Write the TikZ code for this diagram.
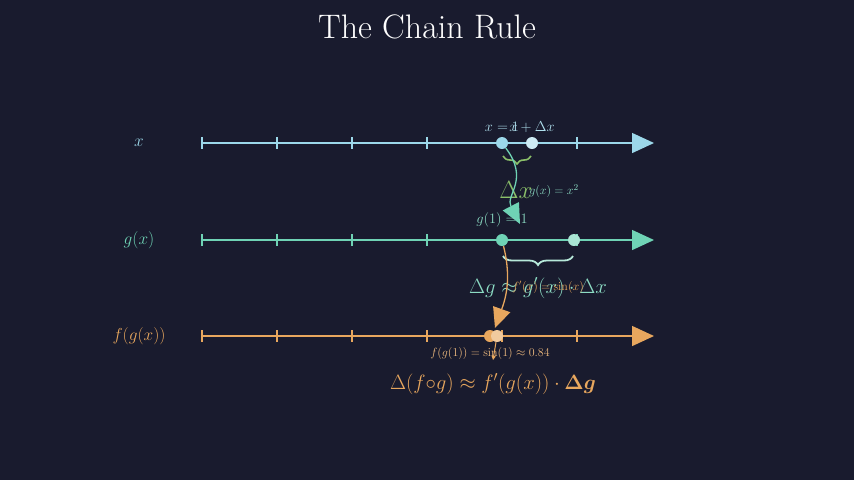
\documentclass[tikz,border=0pt]{standalone}
\usepackage{amsmath}
\usetikzlibrary{arrows.meta,decorations.pathreplacing}
\definecolor{bg}{HTML}{191B2E}
\definecolor{cb}{HTML}{9CD8EA}
\definecolor{ct}{HTML}{6FD3B5}
\definecolor{co}{HTML}{E8A75E}
\definecolor{cg}{HTML}{8BC06A}
\begin{document}
\begin{tikzpicture}[x=1pt,y=-1pt,
  ax/.style={line width=1.5pt,-{Triangle[length=22pt,width=20pt]}},
  tk/.style={line width=1.2pt},
  dot/.style={circle,inner sep=0pt,minimum size=12pt}]
\fill[bg] (0,0) rectangle (854,480);
\node[white,font=\fontsize{34}{38}\selectfont] (title) at (427,27) {The Chain Rule};
% axes
\foreach \y/\c/\n in {143/cb/a,240/ct/b,336/co/c}{
  \coordinate (\n0) at (202,\y); \coordinate (\n1) at (654,\y);
  \draw[ax,\c] (\n0) -- (\n1);
  \foreach \t in {202,277,352,427,502,577} \draw[tk,\c] (\t,\y-6) -- (\t,\y+6);
}
\node[cb,font=\fontsize{19}{22}\selectfont] (lx) at (139,143) {$x$};
\node[ct,font=\fontsize{19}{22}\selectfont] (lg) at (139,240) {$g(x)$};
\node[co,font=\fontsize{19}{22}\selectfont] (lf) at (139,336) {$f(g(x))$};
% dots
\node[dot,fill=cb] (x1) at (502,143) {};
\node[dot,fill=cb!50!white] (x2) at (532,143) {};
\node[dot,fill=ct] (g1) at (502,240) {};
\node[dot,fill=ct!60!white] (g2) at (574,240) {};
\node[dot,fill=co] (f1) at (490,336) {};
\node[dot,fill=co!60!white] (f2) at (497,336) {};
% labels x
\node[cb!80!white,font=\fontsize{14}{16}\selectfont] (lx1) at (502,127) {$x=1$};
\node[cb!80!white,font=\fontsize{14}{16}\selectfont] (lx2) at (532,127) {$x+\Delta x$};
\draw[cg,decorate,decoration={brace,amplitude=8pt,mirror},line width=1.6pt] (503,156) -- (531,156);
\node[cg,font=\fontsize{24}{28}\selectfont] (dx) at (516,190) {$\Delta x$};
\node[ct!80!white,font=\fontsize{13}{15}\selectfont] (gx) at (554,191) {$g(x)=x^2$};
% arrow x->g
\draw[ct,line width=1.3pt,-{Triangle[length=20pt,width=18pt]}] (x1) .. controls (530,180) and (505,195) .. (520,224) coordinate (ae);
\node[ct!80!white,font=\fontsize{14}{16}\selectfont] (g1l) at (502,220) {$g(1)=1$};
\draw[ct!50!white,decorate,decoration={brace,amplitude=9pt,mirror},line width=1.8pt] (503,256) -- (573,256);
\node[ct!80!white,font=\fontsize{21}{25}\selectfont] (dg) at (538,288) {$\Delta g\approx g'(x)\cdot\Delta x$};
\node[co,font=\fontsize{12}{14}\selectfont] (fsin) at (548,287) {$f'(x)=\sin(x)$};
% arrow g->f
\draw[co,line width=1.3pt,-{Triangle[length=20pt,width=18pt]}] (g1) .. controls (512,280) and (505,300) .. (495,328);
\node[co!80!white,font=\fontsize{12}{14}\selectfont] (fl) at (490,353) {$f(g(1))=\sin(1)\approx0.84$};
\draw[co,line width=1pt,-{Triangle[length=4pt,width=4pt]}] (f2) -- (493,360);
\node[co,font=\fontsize{22}{26}\selectfont] (df) at (493,384) {$\Delta(f{\circ}g)\approx f'(g(x))\cdot\boldsymbol{\Delta g}$};
\end{tikzpicture}
\end{document}
